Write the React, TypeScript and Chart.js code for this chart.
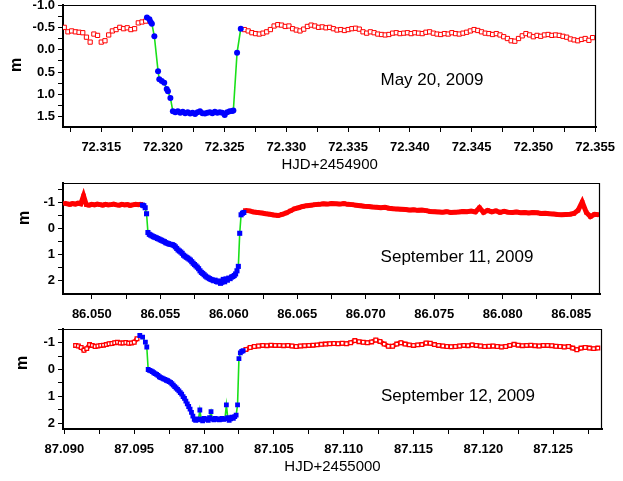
import React, { useEffect, useRef } from 'react';
import { Chart, registerables } from 'chart.js';
Chart.register(...registerables);

const FONT = '"Liberation Sans", Arial, Helvetica, sans-serif';

// ---------------- May 20, 2009 ----------------
const mayPreT = [72.3120, 72.3123, 72.3126, 72.3129, 72.3132, 72.3135, 72.3138, 72.3141, 72.3144, 72.3147, 72.3150, 72.3153, 72.3156, 72.3159, 72.3162, 72.3165, 72.3168, 72.3171, 72.3174, 72.3177, 72.3180, 72.3183, 72.3186];
const mayPreM = [-0.50, -0.40, -0.42, -0.40, -0.39, -0.38, -0.28, -0.17, -0.35, -0.32, -0.17, -0.20, -0.33, -0.42, -0.45, -0.50, -0.47, -0.49, -0.45, -0.47, -0.60, -0.62, -0.64];
const mayEclT = [72.3187, 72.3189, 72.3190, 72.3191, 72.3193, 72.3196, 72.3197, 72.3199, 72.3201, 72.3203, 72.3204, 72.3206, 72.3208,
  72.3210, 72.3212, 72.3214, 72.3216, 72.3218, 72.3220, 72.3222, 72.3224, 72.3226, 72.3228, 72.3230, 72.3232, 72.3234, 72.3236, 72.3238, 72.3240, 72.3242, 72.3244, 72.3246, 72.3248, 72.3250, 72.3252, 72.3254, 72.3256,
  72.3257, 72.3260, 72.3263];
const mayEclM = [-0.72, -0.68, -0.62, -0.58, -0.30, 0.48, 0.66, 0.70, 0.74, 0.88, 0.93, 1.08, 1.38,
  1.40, 1.38, 1.41, 1.39, 1.42, 1.40, 1.43, 1.41, 1.44, 1.40, 1.38, 1.42, 1.43, 1.41, 1.40, 1.42, 1.39, 1.41, 1.40, 1.41, 1.46, 1.40, 1.38, 1.37,
  1.36, 0.07, -0.47];
const mayPostT = [72.3266, 72.3269, 72.3272, 72.3275, 72.3278, 72.3281, 72.3284, 72.3287, 72.3290, 72.3293,
  72.3296, 72.3299, 72.3302, 72.3305, 72.3308, 72.3311, 72.3314, 72.3317, 72.3320, 72.3323,
  72.3326, 72.3329, 72.3332, 72.3335, 72.3338, 72.3341, 72.3344, 72.3347, 72.3350, 72.3353,
  72.3356, 72.3359, 72.3362, 72.3365, 72.3368, 72.3371, 72.3374, 72.3377, 72.3380, 72.3383,
  72.3386, 72.3389, 72.3392, 72.3395, 72.3398, 72.3401, 72.3404, 72.3407, 72.3410, 72.3413,
  72.3416, 72.3419, 72.3422, 72.3425, 72.3428, 72.3431, 72.3434, 72.3437, 72.3440, 72.3443,
  72.3446, 72.3449, 72.3452, 72.3455, 72.3458, 72.3461, 72.3464, 72.3467, 72.3470, 72.3473,
  72.3476, 72.3479, 72.3482, 72.3485, 72.3488, 72.3491, 72.3494, 72.3497, 72.3500, 72.3503,
  72.3506, 72.3509, 72.3512, 72.3515, 72.3518, 72.3521, 72.3524, 72.3527, 72.3530, 72.3533,
  72.3536, 72.3539, 72.3542, 72.3545, 72.3548];
const mayPostM = [-0.45, -0.42, -0.38, -0.36, -0.35, -0.37, -0.40, -0.45, -0.53, -0.56,
  -0.55, -0.52, -0.53, -0.47, -0.44, -0.42, -0.46, -0.52, -0.55, -0.53,
  -0.50, -0.51, -0.49, -0.50, -0.47, -0.44, -0.45, -0.43, -0.45, -0.47,
  -0.48, -0.46, -0.40, -0.37, -0.40, -0.38, -0.35, -0.34, -0.33, -0.34,
  -0.37, -0.38, -0.36, -0.37, -0.38, -0.36, -0.38, -0.37, -0.36, -0.39,
  -0.40, -0.37, -0.35, -0.34, -0.36, -0.35, -0.38, -0.36, -0.35, -0.37,
  -0.39, -0.42, -0.45, -0.43, -0.40, -0.37, -0.36, -0.34, -0.36, -0.33,
  -0.29, -0.25, -0.20, -0.19, -0.25, -0.31, -0.36, -0.33, -0.29, -0.32,
  -0.30, -0.33, -0.34, -0.32, -0.33, -0.32, -0.30, -0.28, -0.24, -0.22,
  -0.20, -0.23, -0.25, -0.21, -0.27];
const mayXMajor = [72.315, 72.320, 72.325, 72.330, 72.335, 72.340, 72.345, 72.350, 72.355];
const mayXLabels = ['72.315', '72.320', '72.325', '72.330', '72.335', '72.340', '72.345', '72.350', '72.355'];
const mayXMinor = [72.3125, 72.3175, 72.3225, 72.3275, 72.3325, 72.3375, 72.3425, 72.3475, 72.3525];
const mayYMajor = [-1.0, -0.5, 0.0, 0.5, 1.0, 1.5];
const mayYLabels = ['-1.0', '-0.5', '0.0', '0.5', '1.0', '1.5'];
const mayYMinor = [-0.75, -0.25, 0.25, 0.75, 1.25];

// ---------------- September 11, 2009 ----------------
const sepAPreT = [86.0480, 86.0482, 86.0484, 86.0486, 86.0488, 86.0490, 86.0492, 86.0494, 86.0496, 86.0498,
  86.0500, 86.0502, 86.0504, 86.0506, 86.0508, 86.0510, 86.0512, 86.0514, 86.0516, 86.0518,
  86.0520, 86.0522, 86.0524, 86.0526, 86.0528, 86.0530, 86.0532, 86.0534, 86.0536];
const sepAPreM = [-0.97, -0.95, -0.93, -0.96, -0.94, -0.98, -0.95, -1.26, -0.92, -0.90,
  -0.93, -0.91, -0.94, -0.92, -0.90, -0.93, -0.91, -0.92, -0.94, -0.91,
  -0.90, -0.93, -0.91, -0.92, -0.89, -0.91, -0.93, -0.92, -0.94];
const sepAEclT = [86.0537, 86.0538, 86.0539, 86.0540, 86.0541, 86.0542, 86.0543, 86.0544, 86.0545, 86.0546,
  86.0547, 86.0548, 86.0549, 86.0550, 86.0551, 86.0552, 86.0553, 86.0554, 86.0555, 86.0556,
  86.0557, 86.0558, 86.0559, 86.0560, 86.0561, 86.0562, 86.0563, 86.0564, 86.0565, 86.0566,
  86.0567, 86.0568, 86.0569, 86.0570, 86.0571, 86.0572, 86.0573, 86.0574, 86.0575, 86.0576,
  86.0577, 86.0578, 86.0579, 86.0580, 86.0581, 86.0582, 86.0583, 86.0584, 86.0585, 86.0586,
  86.0587, 86.0588, 86.0589, 86.0590, 86.0591, 86.0592, 86.0593, 86.0594, 86.0595, 86.0596,
  86.0597, 86.0598, 86.0599, 86.0600, 86.0601, 86.0602, 86.0603, 86.0604, 86.0605, 86.0606,
  86.0607, 86.0608, 86.0609, 86.0610, 86.0611];
const sepAEclM = [-0.90, -0.88, -0.80, -0.57, 0.15, 0.22, 0.25, 0.28, 0.31, 0.33,
  0.35, 0.38, 0.40, 0.43, 0.45, 0.48, 0.50, 0.54, 0.56, 0.58,
  0.60, 0.61, 0.62, 0.65, 0.70, 0.76, 0.82, 0.86, 0.90, 0.95,
  1.02, 1.06, 1.10, 1.13, 1.17, 1.21, 1.27, 1.33, 1.38, 1.43,
  1.48, 1.54, 1.62, 1.68, 1.72, 1.77, 1.82, 1.86, 1.89, 1.92,
  1.95, 1.97, 2.00, 1.98, 2.03, 2.05, 2.01, 2.10, 2.06, 1.95,
  2.04, 1.93, 1.98, 1.90, 1.92, 1.86, 1.84, 1.80, 1.74, 1.62,
  1.45, 0.18, -0.53, -0.59, -0.62];
const sepAPostT = [86.0612, 86.0615, 86.0618, 86.0621, 86.0624, 86.0627, 86.0630, 86.0633, 86.0636, 86.0639,
  86.0642, 86.0645, 86.0648, 86.0651, 86.0654, 86.0657, 86.0660, 86.0663, 86.0666, 86.0669,
  86.0672, 86.0675, 86.0678, 86.0681, 86.0684, 86.0687, 86.0690, 86.0693, 86.0696, 86.0699,
  86.0702, 86.0705, 86.0708, 86.0711, 86.0714, 86.0717, 86.0720, 86.0723, 86.0726, 86.0729,
  86.0732, 86.0735, 86.0738, 86.0741, 86.0744, 86.0747, 86.0750, 86.0753, 86.0756, 86.0759,
  86.0762, 86.0765, 86.0768, 86.0771, 86.0774, 86.0777, 86.0780, 86.0783, 86.0786, 86.0789,
  86.0792, 86.0795, 86.0798, 86.0801, 86.0804, 86.0807, 86.0810, 86.0813, 86.0816, 86.0819,
  86.0822, 86.0825, 86.0828, 86.0831, 86.0834, 86.0837, 86.0840, 86.0843, 86.0846, 86.0849,
  86.0852, 86.0855, 86.0858, 86.0861, 86.0864, 86.0867, 86.0870];
const sepAPostM = [-0.70, -0.68, -0.64, -0.62, -0.60, -0.57, -0.55, -0.52, -0.50, -0.55,
  -0.60, -0.68, -0.76, -0.80, -0.85, -0.88, -0.90, -0.92, -0.93, -0.95,
  -0.94, -0.96, -0.95, -0.94, -0.96, -0.93, -0.92, -0.90, -0.88, -0.86,
  -0.85, -0.83, -0.82, -0.80, -0.82, -0.78, -0.76, -0.75, -0.74, -0.73,
  -0.71, -0.72, -0.70, -0.71, -0.69, -0.66, -0.65, -0.64, -0.63, -0.65,
  -0.62, -0.63, -0.64, -0.66, -0.65, -0.67, -0.64, -0.80, -0.62, -0.70,
  -0.64, -0.68, -0.62, -0.66, -0.63, -0.62, -0.64, -0.61, -0.62, -0.60,
  -0.62, -0.61, -0.58, -0.59, -0.57, -0.56, -0.54, -0.53, -0.54, -0.55,
  -0.58, -0.70, -1.02, -0.62, -0.46, -0.55, -0.53];
const sepAXMajor = [86.050, 86.055, 86.060, 86.065, 86.070, 86.075, 86.080, 86.085];
const sepAXLabels = ['86.050', '86.055', '86.060', '86.065', '86.070', '86.075', '86.080', '86.085'];
const sepAXMinor = [86.0525, 86.0575, 86.0625, 86.0675, 86.0725, 86.0775, 86.0825];
const sepAYMajor = [-1, 0, 1, 2];
const sepAYLabels = ['-1', '0', '1', '2'];
const sepAYMinor = [-1.5, -0.5, 0.5, 1.5];

// ---------------- September 12, 2009 ----------------
const sepBPreT = [87.0908, 87.0910, 87.0912, 87.0914, 87.0916, 87.0918, 87.0920, 87.0922, 87.0924, 87.0926,
  87.0928, 87.0930, 87.0932, 87.0934, 87.0936, 87.0938, 87.0940, 87.0942, 87.0944, 87.0946,
  87.0948, 87.0950, 87.0952];
const sepBPreM = [-0.90, -0.88, -0.82, -0.72, -0.78, -0.93, -0.90, -0.86, -0.88, -0.90,
  -0.91, -0.93, -0.96, -0.97, -1.00, -1.02, -0.99, -0.99, -1.01, -0.98,
  -0.99, -1.02, -1.15];
const sepBEclT = [87.0954, 87.0956, 87.0958, 87.0959,
  87.0960, 87.0961, 87.0962, 87.0963, 87.0964, 87.0965, 87.0966, 87.0967, 87.0968, 87.0969,
  87.0970, 87.0971, 87.0972, 87.0973, 87.0974, 87.0975, 87.0976, 87.0977, 87.0978, 87.0979,
  87.0980, 87.0981, 87.0982, 87.0983, 87.0984, 87.0985, 87.0986, 87.0987, 87.0988, 87.0989,
  87.0990, 87.0991, 87.0992, 87.0993, 87.0994, 87.0995, 87.0996, 87.0997, 87.0998, 87.0999,
  87.1000, 87.1001, 87.1002, 87.1003, 87.1004, 87.1005, 87.1006, 87.1007, 87.1008, 87.1009,
  87.1010, 87.1011, 87.1012, 87.1013, 87.1014, 87.1015, 87.1016, 87.1017, 87.1018, 87.1019,
  87.1020, 87.1021, 87.1022, 87.1023, 87.1024, 87.1025, 87.1026, 87.1027, 87.1028];
const sepBEclM = [-1.27, -1.21, -1.02, -0.84,
  0.00, 0.03, 0.05, 0.08, 0.12, 0.15, 0.18, 0.22, 0.27, 0.30,
  0.32, 0.35, 0.37, 0.40, 0.42, 0.45, 0.48, 0.53, 0.58, 0.64,
  0.69, 0.74, 0.80, 0.86, 0.92, 1.01, 1.08, 1.18, 1.28, 1.38,
  1.48, 1.60, 1.74, 1.86, 1.90, 1.84, 1.88, 1.51, 1.85, 1.92,
  1.82, 1.86, 1.84, 1.90, 1.80, 1.57, 1.84, 1.88, 1.82, 1.86,
  1.84, 1.88, 1.85, 1.82, 1.86, 1.84, 1.32, 1.80, 1.90, 1.84,
  1.78, 1.82, 1.76, 1.70, 1.32, -0.41, -0.62, -0.68, -0.70];
const sepBPostT = [87.1030, 87.1033, 87.1036, 87.1039, 87.1042, 87.1045, 87.1048, 87.1051, 87.1054, 87.1057,
  87.1060, 87.1063, 87.1066, 87.1069, 87.1072, 87.1075, 87.1078, 87.1081, 87.1084, 87.1087,
  87.1090, 87.1093, 87.1096, 87.1099, 87.1102, 87.1105, 87.1108, 87.1111, 87.1114, 87.1117,
  87.1120, 87.1123, 87.1126, 87.1129, 87.1132, 87.1135, 87.1138, 87.1141, 87.1144, 87.1147,
  87.1150, 87.1153, 87.1156, 87.1159, 87.1162, 87.1165, 87.1168, 87.1171, 87.1174, 87.1177,
  87.1180, 87.1183, 87.1186, 87.1189, 87.1192, 87.1195, 87.1198, 87.1201, 87.1204, 87.1207,
  87.1210, 87.1213, 87.1216, 87.1219, 87.1222, 87.1225, 87.1228, 87.1231, 87.1234, 87.1237,
  87.1240, 87.1243, 87.1246, 87.1249, 87.1252, 87.1255, 87.1258, 87.1261, 87.1264, 87.1267,
  87.1270, 87.1273, 87.1276, 87.1279, 87.1282];
const sepBPostM = [-0.75, -0.82, -0.86, -0.88, -0.90, -0.89, -0.91, -0.90, -0.90, -0.89,
  -0.90, -0.88, -0.86, -0.88, -0.89, -0.90, -0.91, -0.92, -0.94, -0.95,
  -0.96, -0.97, -0.96, -0.98, -0.96, -1.00, -1.08, -1.04, -1.02, -1.00,
  -1.03, -1.10, -1.05, -0.95, -0.87, -0.87, -0.95, -1.00, -0.95, -0.92,
  -0.90, -0.92, -0.93, -0.99, -0.98, -0.93, -0.90, -0.88, -0.86, -0.85,
  -0.86, -0.88, -0.90, -0.89, -0.92, -0.90, -0.88, -0.86, -0.87, -0.88,
  -0.86, -0.84, -0.86, -0.90, -0.94, -0.91, -0.89, -0.90, -0.91, -0.89,
  -0.88, -0.90, -0.90, -0.89, -0.87, -0.86, -0.84, -0.86, -0.80, -0.74,
  -0.80, -0.82, -0.80, -0.78, -0.80];
const sepBXMajor = [87.090, 87.095, 87.100, 87.105, 87.110, 87.115, 87.120, 87.125];
const sepBXLabels = ['87.090', '87.095', '87.100', '87.105', '87.110', '87.115', '87.120', '87.125'];
const sepBXMinor = [87.0925, 87.0975, 87.1025, 87.1075, 87.1125, 87.1175, 87.1225, 87.1275];
const sepBYMajor = [-1, 0, 1, 2];
const sepBYLabels = ['-1', '0', '1', '2'];
const sepBYMinor = [-1.5, -0.5, 0.5, 1.5];

const RED = '#ff0000';
const BLUE = '#0000ff';
const GREEN = '#19e019';

type Pt = { x: number; y: number };
const zip = (t: number[], m: number[]): Pt[] => t.map((x, i) => ({ x, y: m[i] }));

interface PanelSpec {
  top: number;
  height: number;
  pad: { top: number; right: number; bottom: number; left: number };
  xAxisHeight: number;
  xMin: number; xMax: number; yMin: number; yMax: number;
  xMajor: number[]; xLabels: string[]; xMinor: number[];
  yMajor: number[]; yLabels: string[]; yMinor: number[];
  xTitle?: string; xTitlePadBottom?: number;
  mPos: [number, number];
  note: string; notePos: [number, number];
  datasets: any[];
}

function Panel({ spec }: { spec: PanelSpec }) {
  const ref = useRef<HTMLCanvasElement>(null);
  useEffect(() => {
    const canvas = ref.current;
    if (!canvas) return;
    const decor = {
      id: 'decor',
      afterDraw(chart: any) {
        const { ctx, chartArea: a } = chart;
        ctx.save();
        ctx.strokeStyle = '#000';
        ctx.lineWidth = 1.2;
        const t = Math.round(a.top) + 0.5;
        const r = Math.round(a.right) - 0.5;
        ctx.beginPath();
        ctx.moveTo(a.left, t);
        ctx.lineTo(r, t);
        ctx.lineTo(r, a.bottom);
        ctx.stroke();
        ctx.fillStyle = '#000';
        ctx.font = `17px ${FONT}`;
        ctx.textAlign = 'center';
        ctx.textBaseline = 'middle';
        ctx.fillText(spec.note, spec.notePos[0], spec.notePos[1]);
        ctx.translate(spec.mPos[0], spec.mPos[1]);
        ctx.rotate(-Math.PI / 2);
        ctx.font = `bold 16px ${FONT}`;
        ctx.fillText('m', 0, 0);
        ctx.restore();
      },
    };
    const labelFor = (vals: number[], labels: string[]) => (v: any) => {
      const i = vals.findIndex((u) => Math.abs(u - Number(v)) < 1e-9);
      return i >= 0 ? labels[i] : '';
    };
    const setTicks = (major: number[], minor: number[]) => (scale: any) => {
      scale.ticks = [...major, ...minor].sort((p, q) => p - q).map((value) => ({ value }));
    };
    const tickFont = { family: FONT, size: 13, weight: 'bold' as const };
    const chart = new Chart(canvas, {
      type: 'scatter',
      data: { datasets: spec.datasets },
      options: {
        animation: false,
        responsive: false,
        events: [],
        layout: { padding: spec.pad },
        plugins: { legend: { display: false }, tooltip: { enabled: false } },
        scales: {
          x: {
            type: 'linear',
            min: spec.xMin,
            max: spec.xMax,
            afterBuildTicks: setTicks(spec.xMajor, spec.xMinor),
            afterFit: (s: any) => { s.height = spec.xAxisHeight; },
            grid: { display: true, drawOnChartArea: false, drawTicks: true, tickLength: 5, color: '#000', lineWidth: 1 },
            border: { display: true, color: '#000', width: 2 },
            ticks: { autoSkip: false, maxRotation: 0, minRotation: 0, padding: 8, color: '#000', font: tickFont, callback: labelFor(spec.xMajor, spec.xLabels) },
            title: spec.xTitle
              ? { display: true, text: spec.xTitle, color: '#000', font: { family: FONT, size: 15 }, padding: { top: 0, bottom: spec.xTitlePadBottom ?? 0 } }
              : { display: false },
          },
          y: {
            type: 'linear',
            reverse: true,
            min: spec.yMin,
            max: spec.yMax,
            afterBuildTicks: setTicks(spec.yMajor, spec.yMinor),
            afterFit: (s: any) => { s.width = 63; },
            grid: { display: true, drawOnChartArea: false, drawTicks: true, tickLength: 5, color: '#000', lineWidth: 1 },
            border: { display: true, color: '#000', width: 2 },
            ticks: { autoSkip: false, padding: 3, color: '#000', font: tickFont, callback: labelFor(spec.yMajor, spec.yLabels) },
          },
        },
      } as any,
      plugins: [decor],
    });
    return () => chart.destroy();
  }, [spec]);
  return (
    <canvas
      ref={ref}
      width={623}
      height={spec.height}
      style={{ position: 'absolute', left: 0, top: spec.top, width: 623, height: spec.height }}
    />
  );
}

const blueSet = (t: number[], m: number[], style: string, radius: number) => ({
  data: zip(t, m),
  showLine: true,
  borderColor: GREEN,
  borderWidth: 1.6,
  pointStyle: style,
  pointRadius: radius,
  pointBackgroundColor: BLUE,
  pointBorderColor: BLUE,
  pointBorderWidth: 0,
  tension: 0,
});

const mayRed = (t: number[], m: number[]) => ({
  data: zip(t, m),
  showLine: false,
  pointStyle: 'rect',
  pointRadius: 3,
  pointBackgroundColor: '#ffffff',
  pointBorderColor: RED,
  pointBorderWidth: 1,
});

const bandRed = (t: number[], m: number[], hollow: boolean, width: number) => ({
  data: zip(t, m),
  showLine: true,
  borderColor: RED,
  borderWidth: width,
  pointStyle: 'rect',
  pointRadius: hollow ? 2.6 : 3,
  pointBackgroundColor: hollow ? '#ffffff' : RED,
  pointBorderColor: RED,
  pointBorderWidth: hollow ? 1.3 : 0,
  tension: 0,
});

const panels: PanelSpec[] = [
  {
    top: -15, height: 190,
    pad: { top: 20, right: 23, bottom: 0, left: 0 },
    xAxisHeight: 48,
    xMin: 72.3119, xMax: 72.3551, yMin: -1.0, yMax: 1.73,
    xMajor: mayXMajor, xLabels: mayXLabels, xMinor: mayXMinor,
    yMajor: mayYMajor, yLabels: mayYLabels, yMinor: mayYMinor,
    xTitle: 'HJD+2454900', xTitlePadBottom: 1,
    mPos: [17, 80],
    note: 'May 20, 2009', notePos: [432, 95],
    datasets: [blueSet(mayEclT, mayEclM, 'circle', 3), mayRed(mayPreT, mayPreM), mayRed(mayPostT, mayPostM)],
  },
  {
    top: 170, height: 160,
    pad: { top: 13, right: 23, bottom: 0, left: 0 },
    xAxisHeight: 36,
    xMin: 86.0479, xMax: 86.0871, yMin: -1.75, yMax: 2.51,
    xMajor: sepAXMajor, xLabels: sepAXLabels, xMinor: sepAXMinor,
    yMajor: sepAYMajor, yLabels: sepAYLabels, yMinor: sepAYMinor,
    mPos: [25, 48],
    note: 'September 11, 2009', notePos: [457, 87],
    datasets: [blueSet(sepAEclT, sepAEclM, 'rect', 3.6), bandRed(sepAPreT, sepAPreM, false, 5), bandRed(sepAPostT, sepAPostM, false, 5)],
  },
  {
    top: 318, height: 163,
    pad: { top: 10, right: 21, bottom: 0, left: 0 },
    xAxisHeight: 52,
    xMin: 87.0899, xMax: 87.1285, yMin: -1.52, yMax: 2.22,
    xMajor: sepBXMajor, xLabels: sepBXLabels, xMinor: sepBXMinor,
    yMajor: sepBYMajor, yLabels: sepBYLabels, yMinor: sepBYMinor,
    xTitle: 'HJD+2455000', xTitlePadBottom: 5,
    mPos: [23, 45],
    note: 'September 12, 2009', notePos: [458, 78],
    datasets: [blueSet(sepBEclT, sepBEclM, 'rect', 3.4), bandRed(sepBPreT, sepBPreM, true, 4.5), bandRed(sepBPostT, sepBPostM, true, 4.5)],
  },
];

export default function App() {
  return (
    <div style={{ position: 'absolute', left: 0, top: 0, width: 623, height: 481, overflow: 'hidden', background: '#ffffff' }}>
      {panels.map((p, i) => (
        <Panel key={i} spec={p} />
      ))}
    </div>
  );
}
